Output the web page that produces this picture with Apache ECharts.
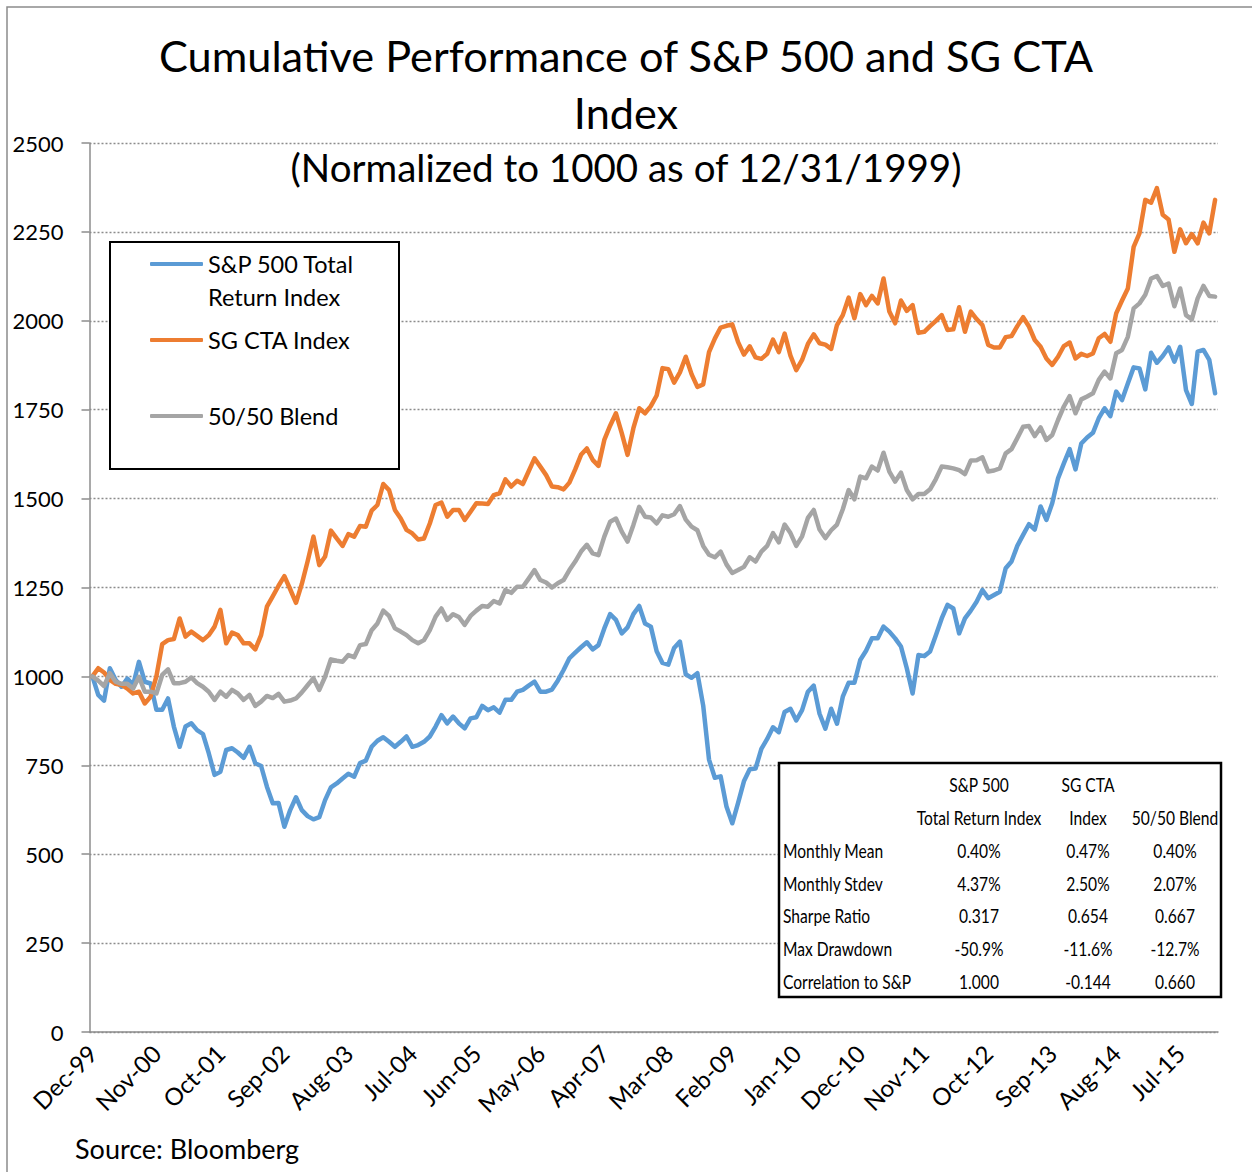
<!DOCTYPE html>
<html>
<head>
<meta charset="utf-8">
<script src="https://cdn.jsdelivr.net/npm/echarts@6/dist/echarts.min.js"></script>
<style>
  html, body { margin: 0; padding: 0; background: #fff; }
  #chart { width: 1252px; height: 1172px; }
</style>
</head>
<body>
<div id="chart"></div>
<script>
// monthly index levels, Dec-99 .. Jan-16 (rows = calendar years)
const sp500 = [
  1000,
  948, 932, 1023, 990, 971, 994, 976, 1041, 985, 980, 906, 906,
  938, 859, 802, 859, 868, 849, 838, 784, 723, 732, 793, 798,
  786, 771, 802, 756, 748, 690, 643, 644, 577, 624, 660, 624,
  607, 598, 604, 652, 688, 699, 713, 726, 718, 756, 763, 802,
  819, 829, 816, 802, 816, 831, 802, 807, 816, 831, 859, 891,
  868, 887, 868, 854, 882, 885, 917, 905, 913, 898, 934, 934,
  957, 962, 974, 985, 957, 957, 963, 988, 1018, 1051, 1067, 1082,
  1096, 1076, 1088, 1135, 1175, 1159, 1121, 1138, 1175, 1198, 1149, 1140,
  1071, 1038, 1033, 1080, 1098, 1006, 996, 1009, 918, 766, 715, 719,
  634, 587, 644, 705, 739, 741, 796, 824, 857, 843, 900, 909,
  876, 905, 957, 974, 895, 853, 909, 867, 943, 982, 982, 1046,
  1072, 1107, 1107, 1140, 1126, 1107, 1084, 1023, 952, 1060, 1057, 1070,
  1116, 1163, 1201, 1191, 1121, 1163, 1185, 1210, 1243, 1220, 1229, 1238,
  1304, 1323, 1367, 1398, 1428, 1413, 1478, 1440, 1487, 1557, 1599, 1639,
  1582, 1655, 1672, 1685, 1726, 1754, 1732, 1801, 1777, 1824, 1869, 1866,
  1807, 1910, 1882, 1901, 1925, 1885, 1927, 1805, 1766, 1913, 1918, 1890,
  1796
];
const sgCta = [
  1000,
  1023, 1011, 990, 979, 976, 966, 952, 957, 924, 943, 1000, 1091,
  1102, 1105, 1163, 1112, 1126, 1114, 1102, 1116, 1140, 1187, 1093, 1123,
  1116, 1093, 1093, 1076, 1116, 1196, 1225, 1255, 1282, 1245, 1207, 1260,
  1324, 1393, 1313, 1337, 1410, 1388, 1367, 1400, 1393, 1423, 1421, 1466,
  1482, 1541, 1524, 1468, 1444, 1412, 1402, 1385, 1388, 1430, 1482, 1489,
  1449, 1468, 1468, 1440, 1463, 1487, 1486, 1485, 1510, 1515, 1554, 1534,
  1550, 1541, 1577, 1613, 1590, 1566, 1534, 1532, 1526, 1545, 1582, 1623,
  1641, 1609, 1592, 1665, 1705, 1740, 1684, 1623, 1698, 1754, 1740, 1760,
  1790, 1867, 1864, 1826, 1855, 1899, 1850, 1814, 1821, 1912, 1950, 1981,
  1986, 1990, 1940, 1905, 1928, 1897, 1893, 1907, 1947, 1912, 1964, 1902,
  1861, 1890, 1935, 1962, 1937, 1933, 1921, 1988, 2016, 2065, 2007, 2075,
  2044, 2070, 2049, 2119, 2026, 1993, 2057, 2028, 2044, 1966, 1969, 1985,
  2000, 2016, 1974, 1976, 2038, 1969, 2026, 2005, 1988, 1932, 1925, 1925,
  1954, 1957, 1985, 2010, 1984, 1946, 1927, 1894, 1876, 1899, 1929, 1939,
  1894, 1907, 1901, 1908, 1951, 1963, 1941, 2021, 2057, 2091, 2208, 2246,
  2340, 2332, 2373, 2298, 2285, 2194, 2257, 2218, 2244, 2218, 2276, 2246,
  2340
];
const blend = [
  1000,
  988, 973, 1009, 985, 979, 979, 966, 999, 957, 957, 952, 1004,
  1020, 981, 981, 985, 997, 981, 971, 957, 934, 957, 943, 962,
  952, 934, 948, 917, 929, 945, 939, 951, 929, 932, 938, 955,
  975, 995, 962, 999, 1048, 1044, 1041, 1060, 1054, 1088, 1091, 1130,
  1149, 1185, 1170, 1135, 1126, 1116, 1102, 1093, 1102, 1130, 1168, 1191,
  1159, 1175, 1167, 1145, 1170, 1185, 1198, 1196, 1212, 1205, 1243, 1235,
  1252, 1252, 1275, 1299, 1271, 1264, 1250, 1262, 1271, 1299, 1323, 1351,
  1370, 1346, 1341, 1393, 1435, 1444, 1407, 1379, 1426, 1477, 1449, 1447,
  1430, 1453, 1449, 1456, 1479, 1441, 1421, 1411, 1367, 1342, 1335, 1351,
  1315, 1291, 1299, 1308, 1335, 1323, 1351, 1367, 1403, 1377, 1427, 1403,
  1367, 1394, 1446, 1468, 1413, 1389, 1411, 1427, 1470, 1524, 1498, 1562,
  1557, 1590, 1579, 1629, 1576, 1548, 1573, 1524, 1498, 1513, 1513, 1526,
  1555, 1590, 1588, 1585, 1580, 1569, 1607, 1608, 1616, 1576, 1579, 1585,
  1627, 1639, 1670, 1702, 1704, 1676, 1700, 1665, 1679, 1721, 1759, 1788,
  1740, 1779, 1787, 1796, 1834, 1857, 1838, 1909, 1918, 1955, 2035, 2049,
  2073, 2119, 2126, 2098, 2105, 2041, 2091, 2016, 2004, 2063, 2098, 2070,
  2068
];

// month labels Dec-99 .. Jan-16
const monthNames = ['Jan', 'Feb', 'Mar', 'Apr', 'May', 'Jun', 'Jul', 'Aug', 'Sep', 'Oct', 'Nov', 'Dec'];
const categories = sp500.map((_, i) => {
  const m = (11 + i) % 12;
  const yr = (1999 + Math.floor((11 + i) / 12)) % 100;
  return monthNames[m] + '-' + String(yr).padStart(2, '0');
});

const seriesNames = ['S&P 500 Total Return Index', 'SG CTA Index', '50/50 Blend'];
const seriesColors = ['#5b9bd5', '#ed7d31', '#a5a5a5'];

// stats table
const tableHeads = [['S&P 500', 'Total Return Index'], ['SG CTA', 'Index'], ['', '50/50 Blend']];
const statLabels = ['Monthly Mean', 'Monthly Stdev', 'Sharpe Ratio', 'Max Drawdown', 'Correlation to S&P'];
const spStats = ['0.40%', '4.37%', '0.317', '-50.9%', '1.000'];
const ctaStats = ['0.47%', '2.50%', '0.654', '-11.6%', '-0.144'];
const blendStats = ['0.40%', '2.07%', '0.667', '-12.7%', '0.660'];

const FONT = 'Lato, "Open Sans", sans-serif';
const chart = echarts.init(document.getElementById('chart'), null, { renderer: 'svg' });

// table graphic
const colX = [979, 1088, 1175];
const rowY = [850, 883, 915, 948, 981];
const tblText = (txt, x, y, align) => ({
  type: 'text', x: x, y: y, z: 6, scaleX: 0.78,
  style: { text: txt, fill: '#000', font: '20px ' + FONT, textAlign: align, textVerticalAlign: 'middle' }
});
const tableEls = [
  { type: 'rect', z: 5, shape: { x: 779, y: 763, width: 442, height: 234 },
    style: { fill: '#fff', stroke: '#000', lineWidth: 2.5 } }
];
tableHeads.forEach((h, c) => {
  if (h[0]) tableEls.push(tblText(h[0], colX[c], 784, 'center'));
  tableEls.push(tblText(h[1], colX[c], 817, 'center'));
});
statLabels.forEach((lab, r) => {
  tableEls.push(tblText(lab, 783, rowY[r], 'left'));
  [spStats, ctaStats, blendStats].forEach((col, c) => {
    tableEls.push(tblText(col[r], colX[c], rowY[r], 'center'));
  });
});

const legendBase = {
  left: 150, padding: 0, itemWidth: 53, itemHeight: 4, icon: 'roundRect',
  textStyle: { fontSize: 23.5, fontFamily: FONT, color: '#000', lineHeight: 33 }
};

const option = {
  animation: false,
  title: {
    text: 'Cumulative Performance of S&P 500 and SG CTA\nIndex',
    subtext: '(Normalized to 1000 as of 12/31/1999)',
    left: 'center', top: 26, padding: [0, 0, 0, 14], itemGap: 0,
    textStyle: { fontSize: 43.3, fontWeight: 'normal', fontFamily: FONT, color: '#000', lineHeight: 57 },
    subtextStyle: { fontSize: 38.5, fontFamily: FONT, color: '#000', lineHeight: 54 }
  },
  legend: [
    // leading blank line keeps the icon level with the first text line
    Object.assign({}, legendBase, {
      top: 214.5, data: [seriesNames[0]],
      formatter: () => ' \nS&P 500 Total\nReturn Index'
    }),
    Object.assign({}, legendBase, { top: 323.5, data: [seriesNames[1]] }),
    Object.assign({}, legendBase, { top: 399.5, data: [seriesNames[2]] })
  ],
  grid: { left: 89.5, right: 34, top: 143, bottom: 140, containLabel: false },
  xAxis: {
    type: 'category',
    data: categories,
    boundaryGap: true,
    axisLine: { lineStyle: { color: '#8c8c8c', width: 1.5 } },
    axisTick: { interval: 10, length: 8, lineStyle: { color: '#8c8c8c', width: 1.5 } },
    axisLabel: { interval: 10, rotate: 45, fontSize: 24, fontFamily: FONT, color: '#000', margin: 17 },
    splitLine: { show: false }
  },
  yAxis: {
    type: 'value',
    min: 0, max: 2500, interval: 250,
    axisLine: { show: true, lineStyle: { color: '#8c8c8c', width: 1.5 } },
    axisTick: { show: true, length: 8, lineStyle: { color: '#8c8c8c', width: 1.5 } },
    axisLabel: { fontSize: 22, fontFamily: FONT, color: '#000', margin: 26, formatter: v => String(v) },
    splitLine: { lineStyle: { color: '#8c8c8c', width: 1.3, type: [2, 2] } }
  },
  series: [sp500, sgCta, blend].map((d, k) => ({
    name: seriesNames[k],
    type: 'line',
    data: d,
    showSymbol: false,
    color: seriesColors[k],
    lineStyle: { width: 4.5, color: seriesColors[k], cap: 'round', join: 'round' }
  })),
  graphic: [
    // outer chart border
    { type: 'rect', z: 0, silent: true, shape: { x: 7, y: 7, width: 1270, height: 1190 },
      style: { fill: 'none', stroke: '#8c8c8c', lineWidth: 1.5 } },
    // legend frame
    { type: 'rect', z: 1, shape: { x: 110, y: 242, width: 289, height: 227 },
      style: { fill: '#fff', stroke: '#000', lineWidth: 2 } },
    { type: 'text', x: 75, y: 1148, z: 6,
      style: { text: 'Source: Bloomberg', fill: '#000', font: '27px ' + FONT, textVerticalAlign: 'middle' } }
  ].concat(tableEls)
};

chart.setOption(option);
</script>
</body>
</html>
